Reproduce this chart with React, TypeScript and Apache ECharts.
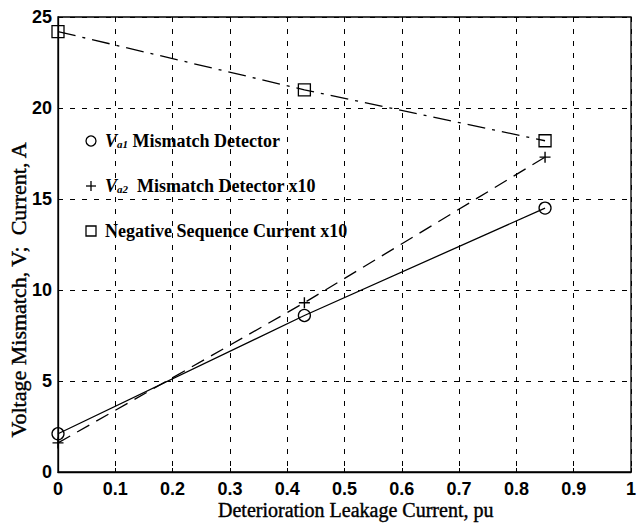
import React, { useEffect, useRef } from "react";
import * as echarts from "echarts";

const leakage = [0, 0.43, 0.85];
const va1Mismatch = [2.1, 8.6, 14.5];
const va2Mismatch = [1.6, 9.3, 17.3];
const negSeqCurrent = [24.2, 21.0, 18.2];
const xTicks = [0, 0.1, 0.2, 0.3, 0.4, 0.5, 0.6, 0.7, 0.8, 0.9, 1];
const yTicks = [0, 5, 10, 15, 20, 25];

const SERIF = "'Liberation Serif', 'Times New Roman', serif";
const SANS = "'Liberation Sans', Arial, sans-serif";

const pairs = (ys: number[]) => leakage.map((x, i) => [x, ys[i]]);

export default function App() {
  const ref = useRef<HTMLDivElement>(null);
  useEffect(() => {
    if (!ref.current) return;
    const chart = echarts.init(ref.current, null, { renderer: "svg" });
    const plusPath = "path://M5 0 L5 10 M0 5 L10 5";
    const legendRows = [
      { y: 141, kind: "circle", text: "{iv|V}{sub|a1} Mismatch Detector" },
      { y: 186, kind: "plus", text: "{iv|V}{sub|a2}  Mismatch Detector x10" },
      { y: 231, kind: "square", text: "Negative Sequence Current x10" },
    ];
    const mx = 91;
    const legendEls: any[] = [];
    legendRows.forEach((r) => {
      if (r.kind === "circle") {
        legendEls.push({ type: "circle", shape: { cx: mx, cy: r.y, r: 5 }, style: { fill: "none", stroke: "#000", lineWidth: 1.3 } });
      } else if (r.kind === "plus") {
        legendEls.push({ type: "line", shape: { x1: mx - 5, y1: r.y, x2: mx + 5, y2: r.y }, style: { stroke: "#000", lineWidth: 1.3 } });
        legendEls.push({ type: "line", shape: { x1: mx, y1: r.y - 5, x2: mx, y2: r.y + 5 }, style: { stroke: "#000", lineWidth: 1.3 } });
      } else {
        legendEls.push({ type: "rect", shape: { x: mx - 5, y: r.y - 5, width: 10, height: 10 }, style: { fill: "none", stroke: "#000", lineWidth: 1.3 } });
      }
      legendEls.push({
        type: "text",
        x: 105,
        y: r.y,
        style: {
          text: r.text,
          fill: "#000",
          font: `bold 18px ${SERIF}`,
          verticalAlign: "middle",
          rich: {
            iv: { fontFamily: SERIF, fontSize: 18, fontStyle: "italic", fontWeight: "bold", fill: "#000" },
            sub: { fontFamily: SERIF, fontSize: 11, fontStyle: "italic", fontWeight: "bold", fill: "#000", padding: [6, 0, 0, 0] },
          },
        },
      });
    });

    chart.setOption({
      animation: false,
      backgroundColor: "#fff",
      grid: { left: 58, right: 3, top: 17, bottom: 53, show: true, borderColor: "#000", borderWidth: 1.3 },
      xAxis: {
        type: "value",
        min: xTicks[0],
        max: xTicks[xTicks.length - 1],
        interval: 0.1,
        axisLine: { show: true, lineStyle: { color: "#000", width: 1.3 } },
        axisTick: { show: true, inside: true, length: 4, lineStyle: { color: "#000" } },
        axisLabel: { color: "#000", fontFamily: SANS, fontWeight: "bold", fontSize: 18, margin: 8, showMaxLabel: true, showMinLabel: true },
        splitLine: { show: true, lineStyle: { color: "#000", width: 1, type: [5, 7] } },
      },
      yAxis: {
        type: "value",
        min: yTicks[0],
        max: yTicks[yTicks.length - 1],
        interval: 5,
        axisLine: { show: true, lineStyle: { color: "#000", width: 1.3 } },
        axisTick: { show: true, inside: true, length: 4, lineStyle: { color: "#000" } },
        axisLabel: { color: "#000", fontFamily: SANS, fontWeight: "bold", fontSize: 18, margin: 6 },
        splitLine: { show: true, lineStyle: { color: "#000", width: 1, type: [5, 7] } },
      },
      series: [
        {
          name: "Va1 Mismatch Detector",
          type: "line",
          data: pairs(va1Mismatch),
          symbol: "circle",
          symbolSize: 12,
          lineStyle: { color: "#000", width: 1.3, type: "solid" },
          itemStyle: { color: "transparent", borderColor: "#000", borderWidth: 1.3 },
          z: 3,
        },
        {
          name: "Va2 Mismatch Detector x10",
          type: "line",
          data: pairs(va2Mismatch),
          symbol: plusPath,
          symbolSize: 11,
          lineStyle: { color: "#000", width: 1.3, type: [14, 8] },
          itemStyle: { color: "transparent", borderColor: "#000", borderWidth: 1.4 },
          z: 3,
        },
        {
          name: "Negative Sequence Current x10",
          type: "line",
          data: pairs(negSeqCurrent),
          symbol: "rect",
          symbolSize: 12,
          lineStyle: { color: "#000", width: 1.3, type: [18, 7, 3, 7] },
          itemStyle: { color: "transparent", borderColor: "#000", borderWidth: 1.3 },
          z: 3,
        },
      ],
      graphic: [
        ...legendEls,
        {
          type: "text",
          x: 18,
          y: 290,
          rotation: Math.PI / 2,
          style: {
            text: "Voltage Mismatch, V;  Current, A",
            fill: "#000",
            stroke: "#000",
            lineWidth: 0.4,
            font: `22px ${SERIF}`,
            align: "center",
            verticalAlign: "middle",
          },
        },
        {
          type: "text",
          x: 218,
          y: 510,
          style: {
            text: "Deterioration Leakage Current, pu",
            fill: "#000",
            stroke: "#000",
            lineWidth: 0.4,
            font: `20px ${SERIF}`,
            align: "left",
            verticalAlign: "middle",
          },
        },
      ],
    });
    return () => chart.dispose();
  }, []);
  return <div ref={ref} style={{ position: "fixed", left: 0, top: 0, width: 639, height: 525 }} />;
}
